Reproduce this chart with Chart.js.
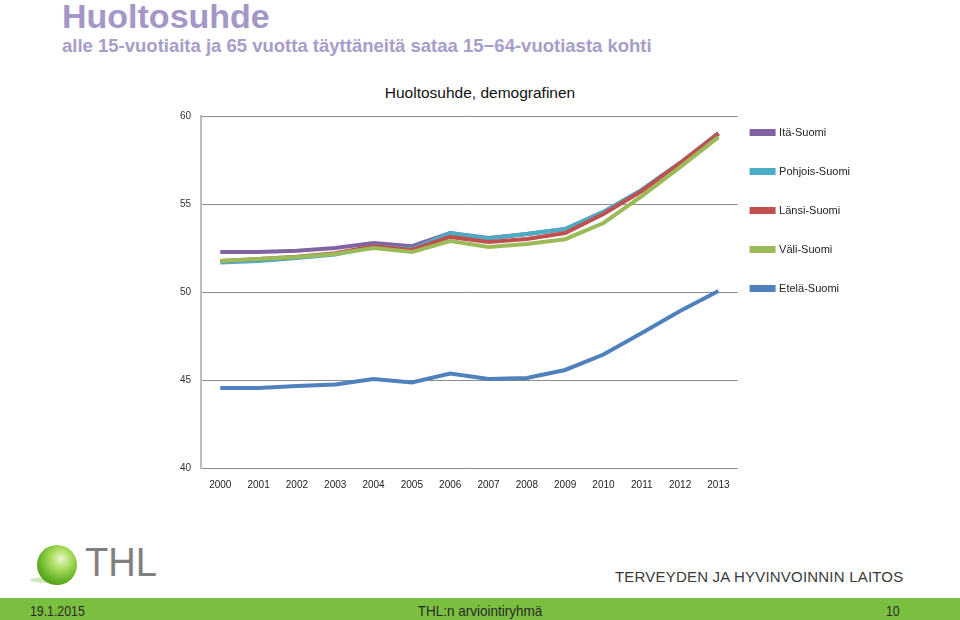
<!DOCTYPE html>
<html>
<head>
<meta charset="utf-8">
<script src="https://cdn.jsdelivr.net/npm/chart.js@4.4.1/dist/chart.umd.min.js"></script>
<style>
  html, body { margin: 0; padding: 0; width: 960px; height: 620px; background: #fff; overflow: hidden; position: relative; font-family: "Liberation Sans", Arial, sans-serif; }
  #title { position: absolute; left: 62px; top: -3px; font-size: 34px; font-weight: bold; color: #a596c8; white-space: nowrap; }
  #subtitle { position: absolute; left: 62px; top: 35px; font-size: 18.5px; font-weight: bold; color: #a89cc9; white-space: nowrap; }
  #charttitle { position: absolute; left: 0; width: 960px; top: 84px; text-align: center; font-size: 15.5px; color: #111; white-space: nowrap; }
  #wrap { position: absolute; left: 0; top: 100px; width: 960px; height: 402px; }
  #logo { position: absolute; left: 34px; top: 543px; width: 130px; height: 45px; }
  #ball { position: absolute; left: 3px; top: 2px; width: 40px; height: 40px; border-radius: 50%;
          background: radial-gradient(circle at 60% 35%, #e9f8d0 0%, #a9dc5c 30%, #5fae22 65%, #3c8a12 100%); }
  #shadow { position: absolute; left: -4px; top: 34px; width: 34px; height: 6px; border-radius: 50%; background: rgba(120,190,60,0.35); }
  #thl { position: absolute; left: 51px; top: -4px; font-size: 41px; color: #808080; transform: scaleX(0.93); transform-origin: left top; }
  #laitos { position: absolute; left: 615px; top: 568px; font-size: 15px; color: #3a3a3a; white-space: nowrap; letter-spacing: 0.2px; }
  #bar { position: absolute; left: 0; top: 598px; width: 960px; height: 22px; background: #7bbf40; }
  .ft { position: absolute; top: 602px; font-size: 15px; color: #2a2a2a; white-space: nowrap; transform: scaleX(0.82); }
</style>
</head>
<body>
<div id="title">Huoltosuhde</div>
<div id="subtitle">alle 15-vuotiaita ja 65 vuotta täyttäneitä sataa 15−64-vuotiasta kohti</div>
<div id="charttitle">Huoltosuhde, demografinen</div>
<div id="wrap"><canvas id="c" width="960" height="402"></canvas></div>
<div id="logo"><div id="shadow"></div><div id="ball"></div><div id="thl">THL</div></div>
<div id="laitos">TERVEYDEN JA HYVINVOINNIN LAITOS</div>
<div id="bar"></div>
<div class="ft" style="left:30px; transform-origin:left top;">19.1.2015</div>
<div class="ft" style="left:0; width:960px; text-align:center; transform-origin:center top; transform: scaleX(0.9);">THL:n arviointiryhmä</div>
<div class="ft" style="left:886px; transform-origin:left top;">10</div>
<script>
const years = ["2000","2001","2002","2003","2004","2005","2006","2007","2008","2009","2010","2011","2012","2013"];
const seriesNames = ["Itä-Suomi","Pohjois-Suomi","Länsi-Suomi","Väli-Suomi","Etelä-Suomi"];
const itaSuomi     = [52.27,52.27,52.35,52.50,52.78,52.60,53.35,53.07,53.30,53.58,54.55,55.80,57.33,59.03];
const pohjoisSuomi = [51.68,51.76,51.93,52.13,52.60,52.44,53.35,53.04,53.30,53.58,54.55,55.80,57.33,58.98];
const lansiSuomi   = [51.76,51.87,52.00,52.20,52.60,52.39,53.13,52.84,53.01,53.35,54.43,55.74,57.33,58.98];
const valiSuomi    = [51.76,51.87,51.99,52.16,52.50,52.27,52.90,52.56,52.73,53.00,53.92,55.45,57.10,58.80];
const etelaSuomi   = [44.55,44.55,44.66,44.74,45.06,44.86,45.37,45.06,45.11,45.57,46.45,47.67,48.92,50.06];
const yTicks = [40,45,50,55,60];
const colors = ["#8064a2","#4bacc6","#c0504d","#9bbb59","#4f81bd"];
const allSeries = [itaSuomi, pohjoisSuomi, lansiSuomi, valiSuomi, etelaSuomi];

const datasets = allSeries.map((d, i) => ({
  label: seriesNames[i],
  data: d,
  borderColor: colors[i],
  backgroundColor: colors[i],
  borderWidth: 4,
  pointRadius: 0,
  tension: 0,
  order: allSeries.length - i
}));

const legendShift = {
  id: 'legendShift',
  afterLayout(chart) {
    const lg = chart.legend;
    if (lg) { lg.left -= 14; lg.right -= 14; lg.top -= 17; lg.bottom -= 17; }
  }
};

new Chart(document.getElementById('c'), {
  type: 'line',
  data: { labels: years, datasets },
  plugins: [legendShift],
  options: {
    responsive: false,
    animation: false,
    layout: { padding: { top: 16, left: 170, bottom: 0, right: 86 } },
    plugins: {
      title: { display: false },
      tooltip: { enabled: false },
      legend: {
        position: 'right',
        align: 'start',
        labels: {
          boxWidth: 22, boxHeight: 3, padding: 28,
          color: '#222',
          font: { family: 'Liberation Sans', size: 11 },
          sort: (a, b) => a.datasetIndex - b.datasetIndex
        }
      }
    },
    scales: {
      x: {
        offset: true,
        grid: { display: false, drawTicks: false },
        border: { display: false },
        ticks: { color: '#222', font: { family: 'Liberation Sans', size: 10 }, padding: 11, maxRotation: 0, autoSkip: false }
      },
      y: {
        min: 40, max: 60,
        afterBuildTicks: (axis) => { axis.ticks = yTicks.map(v => ({ value: v })); },
        grid: { color: '#8c8c8c', lineWidth: 1, drawTicks: false },
        border: { display: true, color: '#bdbdbd', width: 2 },
        ticks: { color: '#333', font: { family: 'Liberation Sans', size: 10 }, padding: 10 }
      }
    }
  }
});
</script>
</body>
</html>
